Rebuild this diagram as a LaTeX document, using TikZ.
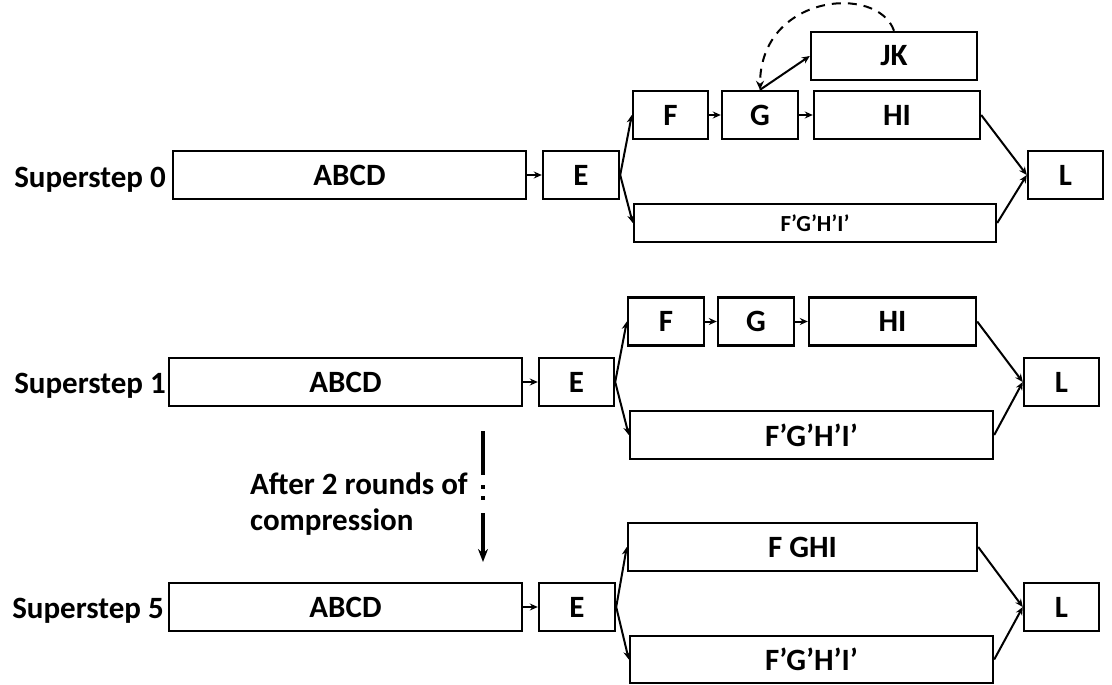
\documentclass[tikz,border=0pt]{standalone}
\usepackage{fontspec}
\setmainfont{Carlito}
\usepackage{tikz}
\usetikzlibrary{arrows.meta, positioning}
\newcommand{\bigfont}{\bfseries\fontsize{31}{36}\selectfont}
\tikzset{
  blk/.style  = {rectangle, draw=black, line width=2.4pt,
                 minimum width=#1, minimum height=48pt,
                 inner sep=0pt, font=\bigfont},
  blk/.default = 76pt,
  lbl/.style  = {anchor=base east, inner sep=0pt, font=\bigfont},
  arr/.style  = {-{Stealth[length=8pt,width=7pt]}, line width=2pt},
  darr/.style = {-{Stealth[length=9pt,width=8pt]}, line width=2pt,
                 dash pattern=on 9pt off 7pt},
  varr/.style = {-{Stealth[length=13pt,width=10pt]}, line width=3.5pt,
                 dash pattern=on 44pt off 10pt on 4pt off 7pt on 4pt off 13pt on 60pt off 1pt},
}

\begin{document}
\begin{tikzpicture}[x=1pt, y=-1pt]
  \useasboundingbox (0,0) rectangle (1112,685);

  % superstep 0
  \node[lbl] (lab0) at (166,187) {Superstep 0};
  \node[blk=353pt] (abcd0) at (349.5,175) {ABCD};
  \node[blk]       (e0)  at (581,175)   {E};
  \node[blk=75pt]  (f0)  at (670.5,115) {F};
  \node[blk]       (g0)  at (760,115)   {G};
  \node[blk=166pt] (hi0) at (897,115)   {HI};
  \node[blk=166pt] (jk0) at (894,56)    {JK};
  \node[blk=362pt, minimum height=38pt,
        font=\bfseries\fontsize{23}{28}\selectfont]
                   (fp0) at (815,223)   {F’G’H’I’};
  \node[blk=75pt]  (l0)  at (1065.5,175) {L};

  \draw[arr] (abcd0) -- (e0);
  \draw[arr] (e0.east) -- (f0.west);
  \draw[arr] (e0.east) -- (fp0.west);
  \draw[arr] (f0) -- (g0);
  \draw[arr] (g0) -- (hi0);
  \draw[arr] (g0.north) -- (jk0.west);
  \draw[arr] (hi0.east) -- (l0.west);
  \draw[arr] (fp0.east) -- (l0.west);
  \draw[darr] (jk0.north) .. controls +(-16,-47) and +(0,-96) .. (g0.north);

  % superstep 1
  \node[lbl] (lab1) at (166,393) {Superstep 1};
  \node[blk=353pt] (abcd1) at (345.5,382) {ABCD};
  \node[blk=75pt]  (e1)  at (576.5,382) {E};
  \node[blk]       (f1)  at (666,321.5) {F};
  \node[blk]       (g1)  at (756,321.5) {G};
  \node[blk=167pt] (hi1) at (892.5,321.5) {HI};
  \node[blk=363pt] (fp1) at (811.5,435) {F’G’H’I’};
  \node[blk=75pt]  (l1)  at (1061.5,382) {L};

  \draw[arr] (abcd1) -- (e1);
  \draw[arr] (e1.east) -- (f1.west);
  \draw[arr] (e1.east) -- (fp1.west);
  \draw[arr] (f1) -- (g1);
  \draw[arr] (g1) -- (hi1);
  \draw[arr] (hi1.east) -- (l1.west);
  \draw[arr] (fp1.east) -- (l1.west);

  % compression
  \node[anchor=west, align=left, inner sep=0pt, font=\bigfont] (note)
        at (250,504) {After 2 rounds of\\compression};
  \coordinate (ctop) at (483,431);
  \coordinate (cbot) at (483,562);
  \draw[varr] (ctop) -- (cbot);

  % superstep 5
  \node[lbl] (lab5) at (164,618) {Superstep 5};
  \node[blk=353pt] (abcd5) at (345.5,607) {ABCD};
  \node[blk]       (e5)  at (577,607)   {E};
  \node[blk=349pt] (fghi5) at (802.5,547) {F GHI};
  \node[blk=363pt, minimum height=47pt]
                   (fp5) at (811.5,659.5) {F’G’H’I’};
  \node[blk=75pt]  (l5)  at (1061.5,607) {L};

  \draw[arr] (abcd5) -- (e5);
  \draw[arr] (e5.east) -- (fghi5.west);
  \draw[arr] (e5.east) -- (fp5.west);
  \draw[arr] (fghi5.east) -- (l5.west);
  \draw[arr] (fp5.east) -- (l5.west);
\end{tikzpicture}
\end{document}
